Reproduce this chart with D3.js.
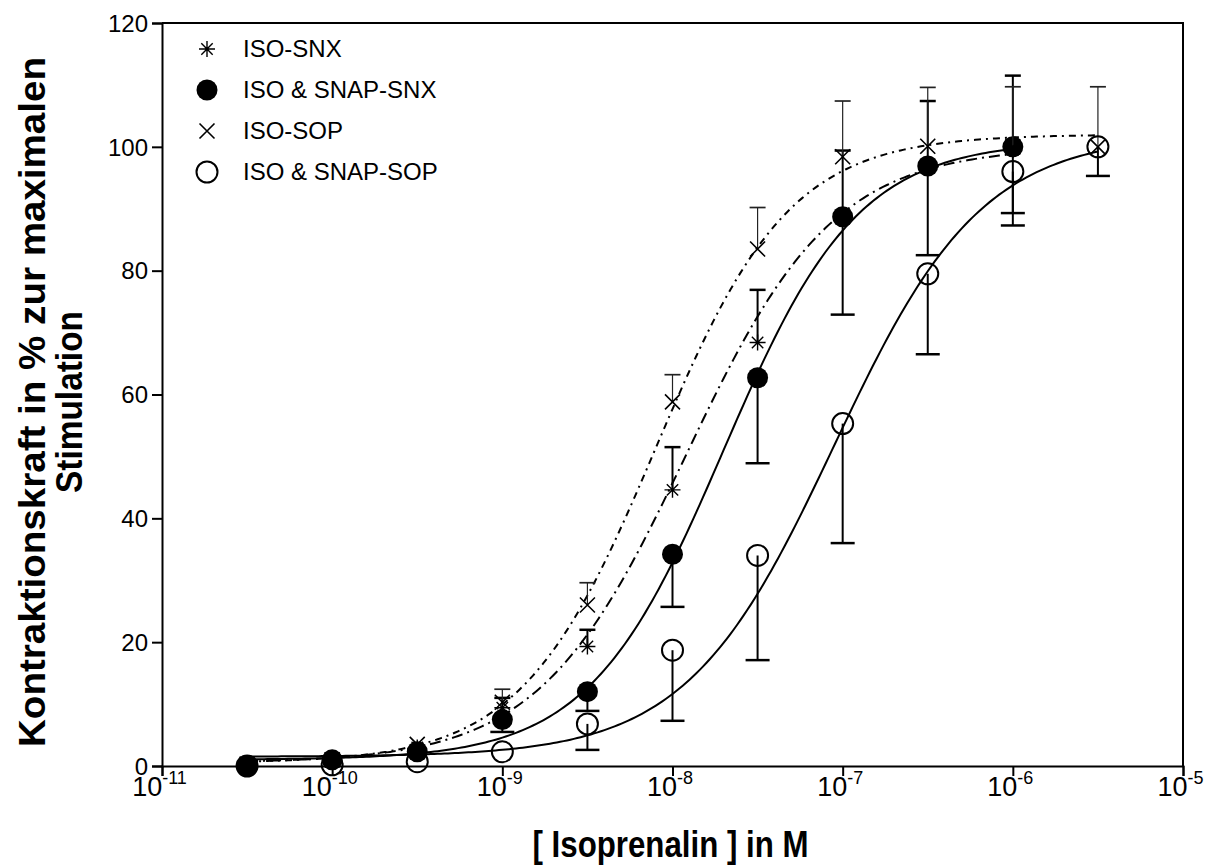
<!DOCTYPE html>
<html>
<head>
<meta charset="utf-8">
<script src="https://cdn.jsdelivr.net/npm/d3@7/dist/d3.min.js"></script>
<style>
  html, body { margin: 0; padding: 0; background: #fff; }
  svg { display: block; }
  text { font-family: Arial, "Liberation Sans", sans-serif; fill: #000; }
</style>
</head>
<body>
<svg id="chart" width="1220" height="867"></svg>
<script>
// Isoprenaline concentrations, log10(M)
const concLog = [-10.5, -10, -9.5, -9, -8.5, -8, -7.5, -7, -6.5, -6, -5.5];

// Mean contraction force (% of maximal stimulation) and SEM per group
const isoSnx      = [0, 1, 3, 9.4, 19.3, 44.6, 68.4, 89, 97, 99.5, null];
const isoSnxErr   = [0, 0, 0, 1.6, 2.7, 6.9, 8.5, 10.4, 10.4, 12, null];
const isoSnapSnx    = [0, 1, 2.3, 7.5, 12, 34.2, 62.7, 88.7, 96.9, 100, null];
const isoSnapSnxErr = [0, 0, 0, 2, 3.1, 8.5, 13.8, 15.8, 14.4, 10.7, null];
const isoSop      = [0.3, 1, 3.5, 10.3, 26, 58.8, 83.5, 98.4, 100.1, 100, 100];
const isoSopErr   = [0, 0, 0, 2.1, 3.6, 4.4, 6.7, 9, 9.5, 9.7, 9.7];
const isoSnapSop    = [0, 0.2, 0.7, 2.3, 6.8, 18.7, 34, 55.3, 79.5, 96, 100];
const isoSnapSopErr = [0, 0, 0, 0, 4.2, 11.4, 16.9, 19.3, 13, 8.7, 4.7];

// Sigmoidal dose-response fits: [bottom, top, logEC50, hill slope, last log conc]
const fitIsoSnx      = [0.5, 100, -7.92, 1.0, -6];
const fitIsoSnapSnx  = [1.0, 101, -7.7, 1.1, -6];
const fitIsoSop      = [0.5, 102, -8.1, 1.1, -5.5];
const fitIsoSnapSop  = [1.5, 102, -7.05, 1.0, -5.5];

const seriesNames = ["ISO-SNX", "ISO & SNAP-SNX", "ISO-SOP", "ISO & SNAP-SOP"];
const xTickExp = [-11, -10, -9, -8, -7, -6, -5];
const yTicks = [0, 20, 40, 60, 80, 100, 120];

const FONT = "Arial, 'Liberation Sans', sans-serif";
const svg = d3.select("#chart");
const x = d3.scaleLog().domain([1e-11, 1e-5]).range([162, 1183]);
const y = d3.scaleLinear().domain([0, 120]).range([766, 23]);

// plot frame (top and right)
svg.append("path")
  .attr("d", `M${x(1e-11)},${y(120)}H${x(1e-5)}V${y(0)}`)
  .attr("fill", "none").attr("stroke", "#000").attr("stroke-width", 2);

// y axis
const yAxis = svg.append("g").attr("transform", `translate(${x(1e-11)},0)`)
  .call(d3.axisLeft(y).tickValues(yTicks).tickSize(10).tickPadding(4).tickFormat(d3.format("d")));
yAxis.select(".domain").attr("stroke-width", 2);
yAxis.selectAll(".tick line").attr("stroke-width", 2);
yAxis.selectAll(".tick text").attr("font-size", 24).style("font-size", "24px")
  .style("font-family", FONT).attr("dy", "0.34em");

// x axis with power-of-ten labels
const xAxis = svg.append("g").attr("transform", `translate(0,${y(0)})`)
  .call(d3.axisBottom(x).tickValues(xTickExp.map(e => Math.pow(10, e))).tickSize(10));
xAxis.selectAll(".tick text").remove();
xAxis.select(".domain").attr("stroke-width", 2);
xAxis.selectAll(".tick line").attr("stroke-width", 2);
xAxis.selectAll(".tick").each(function(d, i) {
  const t = d3.select(this).append("text")
    .attr("y", 30).attr("x", -3).attr("text-anchor", "middle")
    .attr("font-size", 27).style("font-size", "27px").style("font-family", FONT);
  t.append("tspan").attr("font-size", 27).style("font-size", "27px").text("10");
  t.append("tspan").attr("dy", -12).attr("font-size", 18).style("font-size", "18px")
    .text(String(xTickExp[i]));
});

// axis titles
svg.append("text")
  .attr("x", x(Math.pow(10, -8)) - 2).attr("y", 857)
  .attr("text-anchor", "middle")
  .attr("textLength", 276).attr("lengthAdjust", "spacingAndGlyphs")
  .style("font-size", "37px").style("font-weight", "bold")
  .text("[ Isoprenalin ] in M");

const yt = svg.append("g").attr("transform", "translate(0,402) rotate(-90)");
yt.append("text").attr("x", 0).attr("y", 45).attr("text-anchor", "middle")
  .attr("textLength", 690).attr("lengthAdjust", "spacingAndGlyphs")
  .style("font-size", "37px").style("font-weight", "bold")
  .text("Kontraktionskraft in % zur maximalen");
yt.append("text").attr("x", 0).attr("y", 82).attr("text-anchor", "middle")
  .attr("textLength", 182).attr("lengthAdjust", "spacingAndGlyphs")
  .style("font-size", "37px").style("font-weight", "bold")
  .text("Stimulation");

// fitted curves
function fitLine(p) {
  const [bottom, top, ec, h, last] = p;
  const xs = d3.range(-10.5, last + 1e-9, 0.02);
  return xs.map(lx => [lx, bottom + (top - bottom) / (1 + Math.pow(10, (ec - lx) * h))]);
}
const line = d3.line().x(d => x(Math.pow(10, d[0]))).y(d => y(d[1]));
const curveDefs = [
  [fitIsoSnx, "11,5,2,5"],
  [fitIsoSnapSnx, null],
  [fitIsoSop, "7,5,2,5"],
  [fitIsoSnapSop, null]
];
curveDefs.forEach(([p, dash]) => {
  svg.append("path").datum(fitLine(p)).attr("d", line)
    .attr("fill", "none").attr("stroke", "#000").attr("stroke-width", 2)
    .attr("stroke-dasharray", dash);
});

// marker shapes
function drawMarker(g, kind, cx, cy) {
  if (kind === "star") {
    const s = 8, d = 5.7;
    g.append("path").attr("d", `M${cx},${cy - s}V${cy + s}M${cx - s},${cy}H${cx + s}M${cx - d},${cy - d}L${cx + d},${cy + d}M${cx - d},${cy + d}L${cx + d},${cy - d}`)
      .attr("stroke", "#000").attr("stroke-width", 1.4).attr("fill", "none");
  } else if (kind === "cross") {
    const s = 7.5;
    g.append("path").attr("d", `M${cx - s},${cy - s}L${cx + s},${cy + s}M${cx - s},${cy + s}L${cx + s},${cy - s}`)
      .attr("stroke", "#000").attr("stroke-width", 1.6).attr("fill", "none");
  } else if (kind === "dot") {
    g.append("circle").attr("cx", cx).attr("cy", cy).attr("r", 10.5).attr("fill", "#000");
  } else {
    g.append("circle").attr("cx", cx).attr("cy", cy).attr("r", 10.5)
      .attr("fill", "none").attr("stroke", "#000").attr("stroke-width", 2);
  }
}

// points with one-sided error bars
const seriesDefs = [
  { vals: isoSnx, errs: isoSnxErr, kind: "star", dir: 1, w: 2, cap: 8, color: "#000" },
  { vals: isoSnapSnx, errs: isoSnapSnxErr, kind: "dot", dir: -1, w: 2, cap: 12, color: "#000" },
  { vals: isoSop, errs: isoSopErr, kind: "cross", dir: 1, w: 1.2, cap: 8, color: "#222" },
  { vals: isoSnapSop, errs: isoSnapSopErr, kind: "open", dir: -1, w: 2, cap: 12, color: "#000" }
];
seriesDefs.forEach(s => {
  const g = svg.append("g");
  s.vals.forEach((v, i) => {
    if (v == null) return;
    const cx = x(Math.pow(10, concLog[i]));
    const e = s.errs[i];
    if (e > 0) {
      const yEnd = y(v + s.dir * e);
      g.append("line").attr("x1", cx).attr("x2", cx).attr("y1", y(v)).attr("y2", yEnd)
        .attr("stroke", s.color).attr("stroke-width", s.w);
      g.append("line").attr("x1", cx - s.cap).attr("x2", cx + s.cap).attr("y1", yEnd).attr("y2", yEnd)
        .attr("stroke", s.color).attr("stroke-width", s.w + 0.5);
    }
    drawMarker(g, s.kind, cx, y(v));
  });
});

// legend
const legendRows = [49, 90, 131, 172];
const legendKinds = ["star", "dot", "cross", "open"];
const lg = svg.append("g");
seriesNames.forEach((name, i) => {
  drawMarker(lg, legendKinds[i], 207, legendRows[i]);
  lg.append("text").attr("x", 243).attr("y", legendRows[i]).attr("dy", "0.35em")
    .style("font-size", "24px").text(name);
});
</script>
</body>
</html>
